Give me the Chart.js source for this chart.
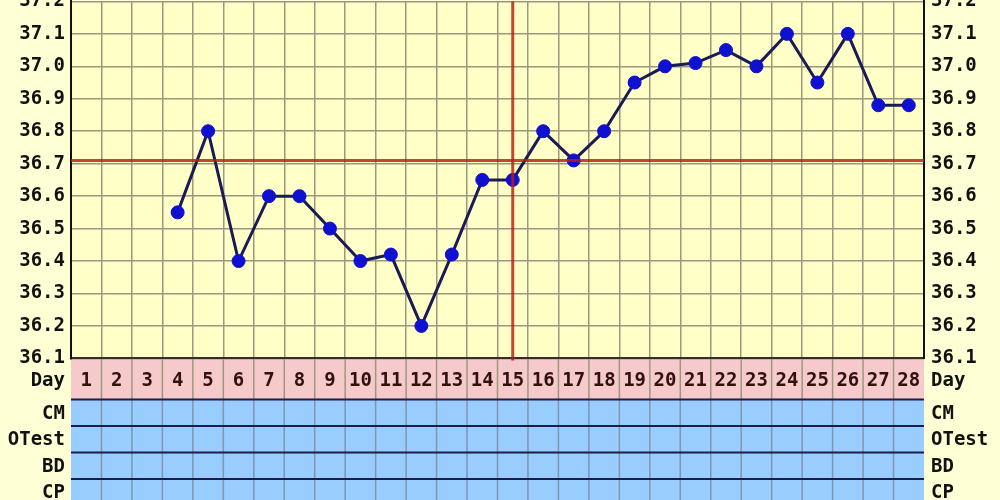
<!DOCTYPE html>
<html><head><meta charset="utf-8">
<script src="https://cdn.jsdelivr.net/npm/chart.js@4"></script>
<style>
html,body{margin:0;padding:0;background:#FFFFD6;overflow:hidden}
#wrap{position:relative;width:1000px;height:500px;overflow:hidden;background:#FFFFD6}
#c{position:absolute;left:0;top:0}
</style></head><body>
<div id="wrap"><canvas id="c" width="1000" height="540"></canvas></div>
<script>
const days = ['1','2','3','4','5','6','7','8','9','10','11','12','13','14','15','16','17','18','19','20','21','22','23','24','25','26','27','28'];
const temps = [null,null,null,36.55,36.80,36.40,36.60,36.60,36.50,36.40,36.42,36.20,36.42,36.65,36.65,36.80,36.71,36.80,36.95,37.00,37.01,37.05,37.00,37.10,36.95,37.10,36.88,36.88];
const yTicks = [36.1,36.2,36.3,36.4,36.5,36.6,36.7,36.8,36.9,37.0,37.1,37.2];
const rowLabels = ['CM','OTest','BD','CP'];
const dayLabel = 'Day';
const coverline = 36.71;
const ovulationDay = '15';

const FONT = {family:'"DejaVu Sans Mono", monospace', size:19, weight:'bold'};
const GRID = '#9c9880';
const PLOT_H = 357;      // chart area height
const PINK_H = 41;
const ROW_H = 26.5;
let topGuess = 14;

const bands = {
  id:'bands',
  beforeDraw(chart){
    const {ctx, chartArea:ca, width, height} = chart;
    ctx.save();
    ctx.fillStyle = '#FFFFD6'; ctx.fillRect(0,0,width,height);
    ctx.fillStyle = '#FFFFC8'; ctx.fillRect(ca.left, ca.top, ca.width, ca.height);
    ctx.fillStyle = '#F6CACA'; ctx.fillRect(ca.left, ca.bottom, ca.width, PINK_H);
    ctx.fillStyle = '#99CCFF'; ctx.fillRect(ca.left, ca.bottom+PINK_H, ca.width, height-ca.bottom-PINK_H);
    const w = ca.width / days.length;
    for (let i=1;i<days.length;i++){
      const x = ca.left + i*w;
      ctx.strokeStyle = GRID; ctx.lineWidth = 1.5;
      ctx.beginPath(); ctx.moveTo(x, ca.bottom); ctx.lineTo(x, ca.bottom+PINK_H); ctx.stroke();
      ctx.strokeStyle = '#7f96ad';
      ctx.beginPath(); ctx.moveTo(x, ca.bottom+PINK_H); ctx.lineTo(x, height); ctx.stroke();
    }
    ctx.strokeStyle = '#1c1c48'; ctx.lineWidth = 2;
    for (let k=0;k<rowLabels.length;k++){
      const y = ca.bottom + PINK_H + k*ROW_H;
      ctx.beginPath(); ctx.moveTo(ca.left, y); ctx.lineTo(ca.right, y); ctx.stroke();
    }
    ctx.restore();
  },
  afterDatasetsDraw(chart){
    const {ctx, chartArea:ca} = chart;
    const ys = chart.scales.y, xs = chart.scales.x;
    ctx.save();
    ctx.strokeStyle = 'rgba(185,28,16,0.82)'; ctx.lineWidth = 3;
    const yc = ys.getPixelForValue(coverline);
    ctx.beginPath(); ctx.moveTo(ca.left, yc); ctx.lineTo(ca.right, yc); ctx.stroke();
    const xo = xs.getPixelForValue(days.indexOf(ovulationDay));
    ctx.beginPath(); ctx.moveTo(xo, ca.top); ctx.lineTo(xo, ca.bottom+2); ctx.stroke();
    ctx.restore();
  },
  afterDraw(chart){
    const {ctx, chartArea:ca} = chart;
    ctx.save();
    ctx.font = `${FONT.weight} ${FONT.size}px ${FONT.family}`;
    ctx.fillStyle = '#111';
    ctx.textBaseline = 'middle';
    const rows = [[dayLabel, ca.bottom+23]];
    rowLabels.forEach((l,k)=>rows.push([l, ca.bottom+PINK_H+(k+0.5)*ROW_H+1]));
    rows.forEach(([t,y])=>{
      ctx.textAlign='right'; ctx.fillText(t, ca.left-6, y);
      ctx.textAlign='left'; ctx.fillText(t, ca.right+7, y);
    });
    ctx.restore();
  }
};

const chart = new Chart(document.getElementById('c'), {
  type:'line',
  data:{labels:days, datasets:[{
    data:temps, borderColor:'#1a1a55', borderWidth:3,
    pointRadius:6.5, pointHoverRadius:6.5,
    pointBackgroundColor:'#1010d0', pointBorderColor:'#1010d0', pointBorderWidth:1,
    tension:0, spanGaps:false
  }]},
  options:{
    responsive:false, animation:false, devicePixelRatio:1,
    layout:{padding:0},
    plugins:{legend:{display:false}, tooltip:{enabled:false}},
    scales:{
      x:{
        offset:true,
        grid:{offset:true, color:GRID, lineWidth:1.5, drawTicks:false},
        border:{display:true, color:'#3a2a2a', width:2},
        ticks:{font:FONT, color:'#301010', padding:11, maxRotation:0, autoSkip:false},
        afterFit(s){ s.height = s.chart.height - (topGuess + PLOT_H); }
      },
      y:{
        position:'left', min:36.1, max:37.2,
        afterBuildTicks(s){ s.ticks = yTicks.map(v=>({value:v})); },
        grid:{color:GRID, lineWidth:1.5, drawTicks:false},
        border:{display:true, color:'#111', width:2},
        ticks:{font:FONT, color:'#111', padding:6, callback:v=>Number(v).toFixed(1)},
        afterFit(s){ s.width = 71; }
      },
      y2:{
        position:'right', min:36.1, max:37.2,
        afterBuildTicks(s){ s.ticks = yTicks.map(v=>({value:v})); },
        grid:{display:false, drawTicks:false},
        border:{display:true, color:'#111', width:2},
        ticks:{font:FONT, color:'#111', padding:7, callback:v=>Number(v).toFixed(1)},
        afterFit(s){ s.width = 76; }
      }
    }
  },
  plugins:[bands]
});
if (Math.abs(chart.chartArea.top - topGuess) > 0.01){
  topGuess = chart.chartArea.top;
  chart.update();
}
document.getElementById('c').style.top = (1 - chart.chartArea.top) + 'px';
</script>
</body></html>
